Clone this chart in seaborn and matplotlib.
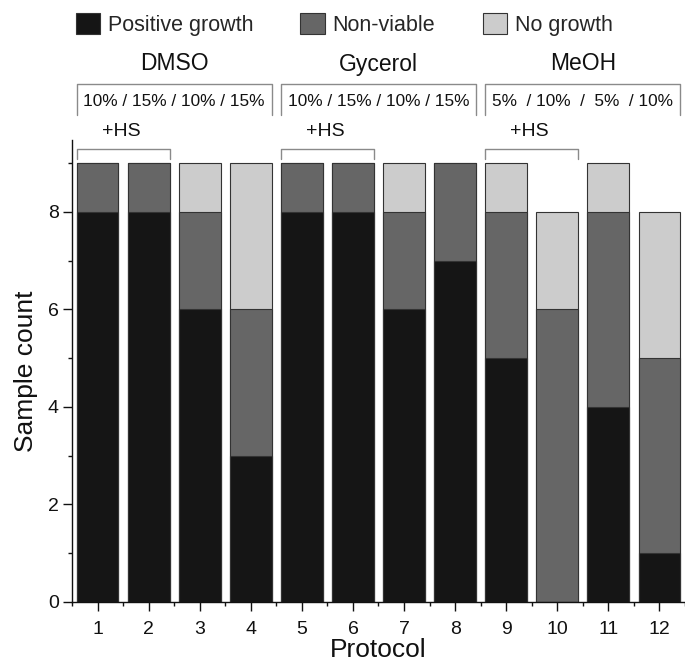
import matplotlib
matplotlib.use("Agg")
import matplotlib.pyplot as plt
import seaborn as sns
import numpy as np
import pandas as pd
from matplotlib.patches import Patch
from matplotlib.ticker import MultipleLocator

protocols = [1, 2, 3, 4, 5, 6, 7, 8, 9, 10, 11, 12]
positive_growth = [8, 8, 6, 3, 8, 8, 6, 7, 5, 0, 4, 1]
non_viable = [1, 1, 2, 3, 1, 1, 2, 2, 3, 6, 4, 4]
no_growth = [0, 0, 1, 3, 0, 0, 1, 0, 1, 2, 1, 3]

groups = ["DMSO", "Gycerol", "MeOH"]
group_members = [[1, 2, 3, 4], [5, 6, 7, 8], [9, 10, 11, 12]]
concentrations = ["10% / 15% / 10% / 15%", "10% / 15% / 10% / 15%", "5%  / 10%  /  5%  / 10%"]
hs_members = [[1, 2], [5, 6], [9, 10]]
series_labels = ["Positive growth", "Non-viable", "No growth"]

sns.set_theme(style="ticks")
plt.rcParams["font.family"] = ["Liberation Sans", "DejaVu Sans"]

c_pos, c_nv, c_ng = "#151515", "#666666", "#cccccc"
edge = "#333333"
bar_w = 0.82

df = pd.DataFrame({
    "Protocol": protocols,
    "pos": positive_growth,
    "nv": non_viable,
    "ng": no_growth,
})
df["cum_nv"] = df["pos"] + df["nv"]
df["cum_ng"] = df["cum_nv"] + df["ng"]

fig = plt.figure(figsize=(6.85, 6.66), dpi=100)
ax = fig.add_axes([72/685, 64/666, 1 - 72/685, (602-140)/666])

for col, c in [("cum_ng", c_ng), ("cum_nv", c_nv), ("pos", c_pos)]:
    sns.barplot(data=df, x="Protocol", y=col, native_scale=True, width=bar_w,
                color=c, saturation=1, edgecolor=edge, linewidth=0.8, ax=ax,
                errorbar=None)

ax.set_xlim(0.5, 12.5)
ax.set_ylim(0, 9.47)
ax.set_xticks(protocols)
ax.set_xticklabels([str(p) for p in protocols])
ax.xaxis.set_minor_locator(MultipleLocator(1, offset=0.5))
ax.set_yticks([0, 2, 4, 6, 8])
ax.yaxis.set_minor_locator(MultipleLocator(1))
ax.tick_params(axis="both", which="major", direction="out", length=6.5, width=1.0,
               labelsize=14, color="#111111", labelcolor="#111111")
ax.tick_params(axis="x", which="major", pad=7)
ax.tick_params(axis="y", which="major", pad=3)
ax.tick_params(axis="both", which="minor", direction="out", length=3, width=1.0,
               color="#111111")
for s in ["top", "right"]:
    ax.spines[s].set_visible(False)
for s in ["left", "bottom"]:
    ax.spines[s].set_linewidth(1.0)
    ax.spines[s].set_color("#111111")
ax.set_xlabel("Protocol", fontsize=19, labelpad=0.5, color="#111111")
ax.set_ylabel("Sample count", fontsize=19, labelpad=7, color="#111111")

def ypx(py):
    return (602 - py) / ((602 - 140) / 9.47)

half = bar_w / 2
for members, g, conc in zip(group_members, groups, concentrations):
    x0, x1 = min(members) - half, max(members) + half
    ax.plot([x0, x0, x1, x1], [ypx(115), ypx(84), ypx(84), ypx(115)],
            color="#8a8a8a", lw=1.0, clip_on=False)
    ax.text((x0 + x1) / 2, ypx(101.5), conc, ha="center", va="center",
            fontsize=12.4, color="#111111", clip_on=False)
    ax.text((x0 + x1) / 2, ypx(64), g, ha="center", va="center",
            fontsize=16.5, color="#111111", clip_on=False)

for members in hs_members:
    x0, x1 = min(members) - half, max(members) + half
    ax.plot([x0, x0, x1, x1], [ypx(159), ypx(149), ypx(149), ypx(159)],
            color="#8a8a8a", lw=1.0, clip_on=False)
    ax.text(x0 + 0.87, ypx(131.5), "+HS", ha="center", va="center",
            fontsize=14, color="#111111", clip_on=False)

handles = [Patch(facecolor=c, edgecolor=edge, linewidth=0.8) for c in (c_pos, c_nv, c_ng)]
fig.legend(handles, series_labels, loc="center", bbox_to_anchor=(344/685, 1 - 24.5/666),
           ncol=3, frameon=False, fontsize=15.5, handlelength=1.16, handleheight=1.07,
           handletextpad=0.33, columnspacing=2.2, borderpad=0)

fig.savefig("out.png", dpi=100)
